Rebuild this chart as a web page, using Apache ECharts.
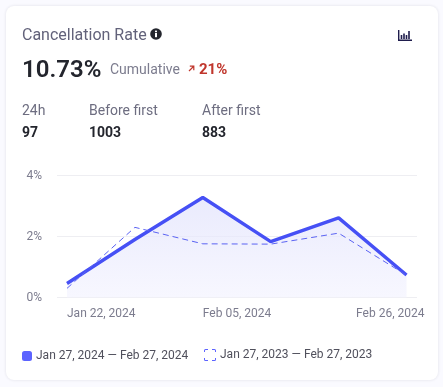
<!DOCTYPE html>
<html>
<head>
<meta charset="utf-8">
<script src="https://cdn.jsdelivr.net/npm/echarts@6/dist/echarts.min.js"></script>
<style>
  html, body { margin: 0; padding: 0; width: 443px; height: 387px; background: #fafaff; overflow: hidden; font-family: Roboto, sans-serif; }
  #card { position: absolute; left: 6px; top: 6px; width: 432px; height: 374px; background: #fff; border-radius: 8px; box-shadow: 0 0 3px rgba(30, 30, 60, .12); }
  #chart { position: absolute; left: 0; top: 0; width: 443px; height: 387px; }
  .t { position: absolute; white-space: nowrap; line-height: 1; }
  .title { left: 22px; top: 27px; font-size: 16px; color: #62627a; }
  .big { left: 22px; top: 57px; font-size: 24px; font-weight: 600; color: #23252d; }
  .sub { left: 110px; top: 62px; font-size: 14px; color: #7c7c8e; }
  .delta { left: 199px; top: 62px; font-size: 15px; font-weight: 700; color: #c0362c; }
  .lab { top: 103px; font-size: 14px; color: #6d6d80; }
  .val { top: 125px; font-size: 14px; font-weight: 700; color: #23252d; }
  svg { position: absolute; }
</style>
</head>
<body>
<div id="card"></div>
<div id="chart"></div>
<div class="t title">Cancellation Rate</div>
<svg style="left:150px;top:28px" width="12" height="12" viewBox="0 0 12 12"><circle cx="6" cy="6" r="5.8" fill="#23252d"/><rect x="5" y="5" width="2" height="4.2" fill="#fff"/><rect x="5" y="2.6" width="2" height="1.6" fill="#fff"/></svg>
<svg style="left:398px;top:30px" width="14" height="11" viewBox="0 0 14 11"><path d="M.7 0v10.2H14" fill="none" stroke="#1f1d4d" stroke-width="1.4"/><path d="M3.5 5v4M6 3.5v5.5M8.5 5v4M11 1v8" stroke="#1f1d4d" stroke-width="1.6"/></svg>
<div class="t big">10.73%</div>
<div class="t sub">Cumulative</div>
<svg style="left:188px;top:65px" width="7" height="7" viewBox="0 0 7 7"><path d="M1 6L5.5 1.5M1.8 1.2H5.8V5.2" fill="none" stroke="#c0362c" stroke-width="1.2"/></svg>
<div class="t delta">21%</div>
<div class="t lab" style="left:22px">24h</div>
<div class="t lab" style="left:89px">Before first</div>
<div class="t lab" style="left:202px">After first</div>
<div class="t val" style="left:22px">97</div>
<div class="t val" style="left:89px">1003</div>
<div class="t val" style="left:202px">883</div>
<script>
var categories = ['Jan 22, 2024', 'Jan 29, 2024', 'Feb 05, 2024', 'Feb 12, 2024', 'Feb 19, 2024', 'Feb 26, 2024'];
var currentValues = [0.46, 1.9, 3.28, 1.83, 2.61, 0.74];
var previousValues = [0.3, 2.3, 1.76, 1.75, 2.11, 0.73];
var shownLabels = [0, 2, 5];
var currentName = 'Jan 27, 2024 — Feb 27, 2024';
var previousName = 'Jan 27, 2023 — Feb 27, 2023';

var cornersIcon = 'path://M0 3V1.5A1.5 1.5 0 0 1 1.5 0H4V1H1.5A.5 .5 0 0 0 1 1.5V3ZM8 0H10.5A1.5 1.5 0 0 1 12 1.5V3H11V1.5A.5 .5 0 0 0 10.5 1H8ZM12 9V10.5A1.5 1.5 0 0 1 10.5 12H8V11H10.5A.5 .5 0 0 0 11 10.5V9ZM4 12H1.5A1.5 1.5 0 0 1 0 10.5V9H1V10.5A.5 .5 0 0 0 1.5 11H4Z';

var chart = echarts.init(document.getElementById('chart'));
var axisText = { color: '#7c7c8e', fontSize: 12, fontFamily: 'Roboto' };
var legendText = { color: '#50505c', fontSize: 12, fontFamily: 'Roboto', padding: [0, 0, 0, -1] };
var option = {
  animation: false,
  // grid 0 only carries the y labels and the long split lines, grid 1 the data
  grid: [
    { left: 57, right: 26, top: 175.5, height: 122 },
    { left: 67, width: 339.5, top: 175.5, height: 122 }
  ],
  xAxis: [
    { gridIndex: 0, type: 'category', show: false, data: categories },
    {
      gridIndex: 1,
      type: 'category',
      boundaryGap: false,
      axisLine: { show: false },
      axisTick: { show: false },
      axisLabel: Object.assign({}, axisText, {
        margin: 10,
        align: 'left',
        interval: function (i) { return shownLabels.indexOf(i) >= 0; }
      }),
      data: categories.map(function (c, i) {
        // last label is pushed back inside the card
        if (i === categories.length - 1) {
          return { value: c, textStyle: { align: 'right', padding: [0, -18, 0, 0] } };
        }
        return c;
      })
    }
  ],
  yAxis: [
    {
      gridIndex: 0,
      type: 'value',
      min: 0,
      max: 4,
      interval: 2,
      axisLine: { show: false },
      axisTick: { show: false },
      axisLabel: Object.assign({}, axisText, { margin: 15, formatter: '{value}%' }),
      splitLine: { lineStyle: { color: '#eeeef2', width: 1 } }
    },
    { gridIndex: 1, type: 'value', min: 0, max: 4, show: false }
  ],
  // two legends because the icons differ in size
  legend: [
    {
      left: 22,
      top: 350,
      padding: 0,
      itemWidth: 10,
      itemHeight: 10,
      textStyle: legendText,
      data: [{ name: currentName, icon: 'roundRect', itemStyle: { color: '#5c63ff', borderWidth: 0 } }]
    },
    {
      left: 204,
      top: 349,
      padding: 0,
      itemWidth: 12,
      itemHeight: 12,
      textStyle: legendText,
      data: [{ name: previousName, icon: cornersIcon, itemStyle: { color: '#5c63ff', borderWidth: 0 } }]
    }
  ],
  series: [
    {
      name: currentName,
      type: 'line',
      xAxisIndex: 1,
      yAxisIndex: 1,
      data: currentValues,
      symbol: 'none',
      z: 2,
      lineStyle: { color: '#4650f5', width: 3.4 },
      areaStyle: {
        color: new echarts.graphic.LinearGradient(0, 0, 0, 1, [
          { offset: 0, color: '#e0e1fb' },
          { offset: 1, color: '#f3f3fe' }
        ])
      }
    },
    {
      name: previousName,
      type: 'line',
      xAxisIndex: 1,
      yAxisIndex: 1,
      data: previousValues,
      symbol: 'none',
      z: 3,
      lineStyle: { color: '#5a62f2', width: 1, type: [6, 4] }
    }
  ]
};
chart.setOption(option);
</script>
</body>
</html>
